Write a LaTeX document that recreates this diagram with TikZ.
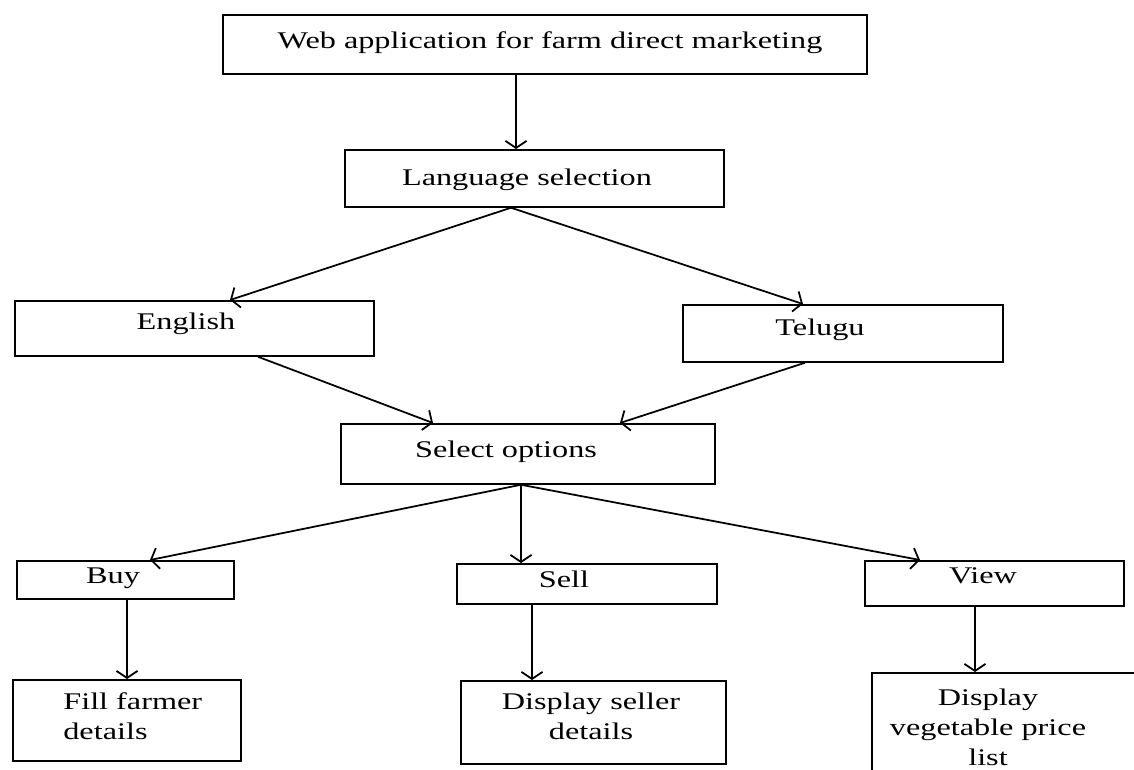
\documentclass[tikz,border=0pt]{standalone}
\usepackage{fontspec}
\setmainfont{Liberation Serif}[FakeStretch=1.35]
\usetikzlibrary{arrows.meta,calc}

\tikzset{
  box/.style={draw, rectangle, line width=1pt, anchor=north west, inner sep=0pt},
  txt/.style={font=\fontsize{13.6}{17.1}\selectfont, inner sep=0pt, text height=9.5pt, text depth=3.4pt},
  txtm/.style={font=\fontsize{13.6}{17.1}\selectfont, inner sep=0pt},
  arr/.style={-{Straight Barb[length=4pt,width=12pt]}, line width=1pt}
}

\begin{document}
\begin{tikzpicture}[x=0.02cm, y=-0.02cm]

\useasboundingbox (0,0) rectangle (1134,769);
\clip (0,0) rectangle (1134,769);

% Boxes
\node[box, minimum width=12.88cm, minimum height=1.18cm] (web) at (222,14) {};
\node[box, minimum width=7.58cm, minimum height=1.14cm] (lang) at (344,149) {};
\node[box, minimum width=7.18cm, minimum height=1.10cm] (eng) at (14,300) {};
\node[box, minimum width=6.40cm, minimum height=1.14cm] (tel) at (682,304) {};
\node[box, minimum width=7.48cm, minimum height=1.20cm] (sel) at (340,423) {};
\node[box, minimum width=4.34cm, minimum height=0.76cm] (buy) at (16,560) {};
\node[box, minimum width=5.20cm, minimum height=0.80cm] (sell) at (456,563) {};
\node[box, minimum width=5.18cm, minimum height=0.90cm] (view) at (864,560) {};
\node[box, minimum width=4.56cm, minimum height=1.62cm] (fill) at (12,679) {};
\node[box, minimum width=5.30cm, minimum height=1.66cm] (seller) at (460,680) {};
\node[box, minimum width=5.80cm, minimum height=2.40cm] (veg) at (871,672) {};

% Texts
\node[txt] (webt) at (550,43) {Web application for farm direct marketing};
\node[txt] (langt) at (527,180) {Language selection};
\node[txt] (engt) at (186,324) {English};
\node[txt] (telt) at (820,330) {Telugu};
\node[txt] (selt) at (506,452) {Select options};
\node[txt] (buyt) at (113,578) {Buy};
\node[txt] (sellt) at (564,582) {Sell};
\node[txt] (viewt) at (983,578) {View};
\node[txtm, align=left, anchor=west] (fillt) at (63,716) {Fill farmer\\details};
\node[txtm, align=center] (sellert) at (591,716) {Display seller\\details};
\node[txtm, align=center] (vegt) at (988,727) {Display\\vegetable price\\list};

% Arrows
\draw[arr] (web.south -| 516,0) -- (lang.north -| 516,0);
\draw[arr] (lang.south -| 511,0) -- (eng.north -| 230,0);
\draw[arr] (lang.south -| 511,0) -- (tel.north -| 803,0);
\draw[arr] (eng.south -| 258,0) -- (sel.north -| 433,0);
\draw[arr] (tel.south -| 805,0) -- (sel.north -| 620,0);
\draw[arr] (sel.south -| 521,0) -- (buy.north -| 150,0);
\draw[arr] (sel.south -| 521,0) -- (sell.north -| 521,0);
\draw[arr] (sel.south -| 521,0) -- (view.north -| 920,0);
\draw[arr] (buy.south -| 127,0) -- (fill.north -| 127,0);
\draw[arr] (sell.south -| 532,0) -- (seller.north -| 532,0);
\draw[arr] (view.south -| 975,0) -- (veg.north -| 975,0);

\end{tikzpicture}
\end{document}
